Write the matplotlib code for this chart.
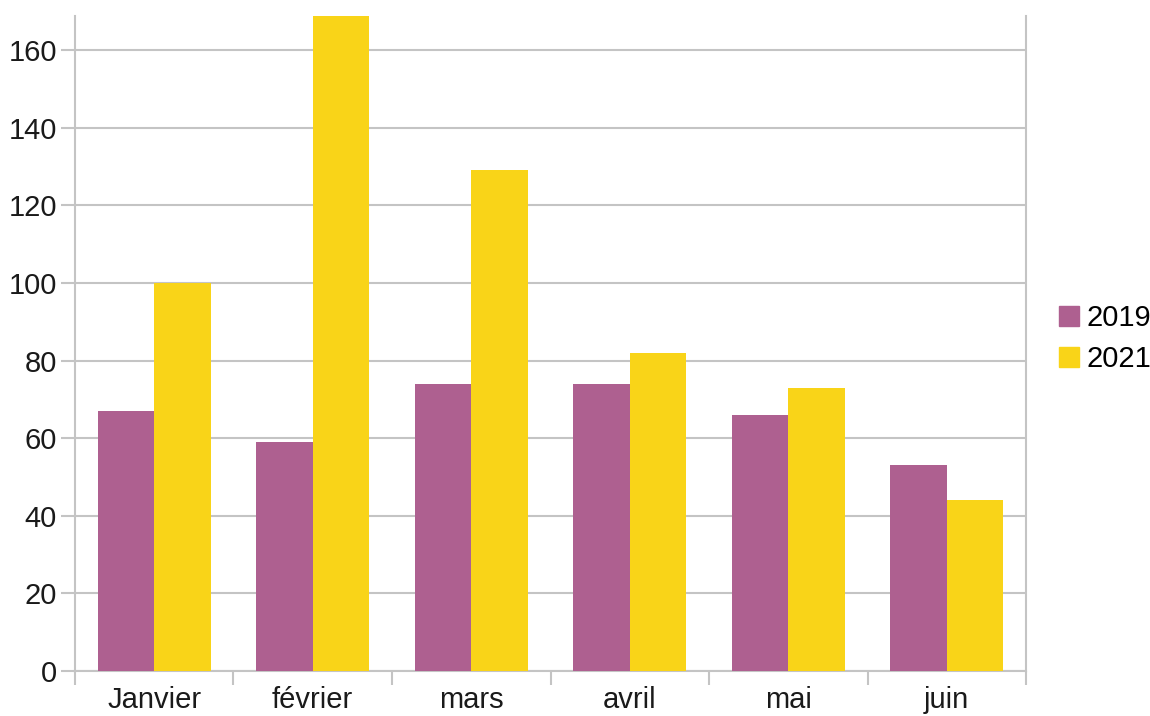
import numpy as np
import matplotlib
matplotlib.use("Agg")
from matplotlib import pyplot as plt
from matplotlib.patches import Patch

months = ["Janvier", "février", "mars", "avril", "mai", "juin"]
values_2019 = [67, 59, 74, 74, 66, 53]
values_2021 = [100, 172, 129, 82, 73, 44]
yticks = [0, 20, 40, 60, 80, 100, 120, 140, 160]

purple = "#ae6090"
yellow = "#f9d418"
grey = "#c4c4c4"

plt.rcParams["font.family"] = ["Liberation Sans", "DejaVu Sans"]

fig = plt.figure(figsize=(11.5, 7.16), dpi=100)
ax = fig.add_axes([0.0652, 0.0628, 0.827, 0.915])

x = np.arange(len(months))
w = 0.357
ax.bar(x - w / 2, values_2019, width=w, color=purple, zorder=3)
ax.bar(x + w / 2, values_2021, width=w, color=yellow, zorder=3)

ax.set_xlim(-0.5, len(months) - 0.5)
ax.set_ylim(0, 168.8)
ax.set_yticks(yticks)
ax.yaxis.grid(True, color=grey, linewidth=1.5, zorder=0)

# labels at centres, tick marks at category boundaries
ax.set_xticks(x)
ax.set_xticklabels(months)
ax.set_xticks(np.arange(-0.5, len(months)), minor=True)
ax.tick_params(axis="x", which="major", length=0, labelsize=21, pad=11, colors="#1a1a1a")
ax.tick_params(axis="x", which="minor", length=10, width=1.5, color=grey)
ax.tick_params(axis="y", length=10, width=1.5, color=grey, labelsize=21, labelcolor="#1a1a1a", pad=3)

for side in ["left", "right", "bottom"]:
    ax.spines[side].set_color(grey)
    ax.spines[side].set_linewidth(1.5)
ax.spines["top"].set_visible(False)

handles = [Patch(color=purple, label="2019"), Patch(color=yellow, label="2021")]
fig.legend(handles=handles, loc="center left", bbox_to_anchor=(0.9205, 0.527),
           frameon=False, fontsize=21, handlelength=0.7, handleheight=0.7,
           handletextpad=0.25, labelspacing=0.45, borderpad=0, borderaxespad=0)

fig.savefig("out.png", dpi=100)
